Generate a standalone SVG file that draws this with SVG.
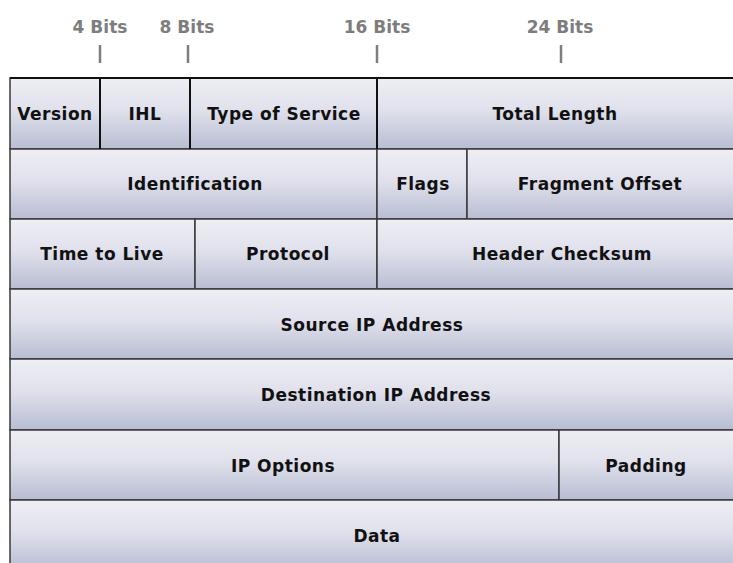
<svg xmlns="http://www.w3.org/2000/svg" width="733" height="563" viewBox="0 0 733 563">
<style>
.cell{fill:url(#g);stroke:#3a3a3a;stroke-width:1.5}
.lbl{font-family:"DejaVu Sans",Verdana,sans-serif;font-weight:bold;font-size:17px;fill:#111;text-anchor:middle;letter-spacing:0.5px}
.bits{font-family:"DejaVu Sans",Verdana,sans-serif;font-weight:bold;font-size:17px;fill:#7d7d7d;text-anchor:middle}
.tick{stroke:#7d7d7d;stroke-width:2.5}
.div{stroke:#111;stroke-width:2}
</style>
<defs>
<linearGradient id="g" x1="0" y1="0" x2="0" y2="1">
<stop offset="0" stop-color="#eeeef4"/>
<stop offset="0.45" stop-color="#e0e1ec"/>
<stop offset="1" stop-color="#b8bdd2"/>
</linearGradient>
</defs>
<rect width="733" height="563" fill="#fff"/>
<g id="scale">
<text class="bits" x="100" y="33">4 Bits</text>
<text class="bits" x="187" y="33">8 Bits</text>
<text class="bits" x="377" y="33">16 Bits</text>
<text class="bits" x="560" y="33">24 Bits</text>
<line class="tick" x1="100" y1="45" x2="100" y2="63"/>
<line class="tick" x1="188" y1="45" x2="188" y2="63"/>
<line class="tick" x1="377" y1="45" x2="377" y2="63"/>
<line class="tick" x1="561" y1="45" x2="561" y2="63"/>
</g>
<g id="version"><rect class="cell" x="10" y="78" width="90" height="71"/><text class="lbl" x="55" y="120">Version</text></g>
<g id="ihl"><rect class="cell" x="100" y="78" width="90" height="71"/><text class="lbl" x="145" y="120">IHL</text></g>
<g id="tos"><rect class="cell" x="190" y="78" width="187" height="71"/><text class="lbl" x="284" y="120">Type of Service</text></g>
<g id="totallength"><rect class="cell" x="377" y="78" width="360" height="71"/><text class="lbl" x="555" y="120">Total Length</text></g>
<g id="identification"><rect class="cell" x="10" y="149" width="367" height="70"/><text class="lbl" x="195" y="190">Identification</text></g>
<g id="flags"><rect class="cell" x="377" y="149" width="90" height="70"/><text class="lbl" x="423" y="190">Flags</text></g>
<g id="fragoffset"><rect class="cell" x="467" y="149" width="270" height="70"/><text class="lbl" x="600" y="190">Fragment Offset</text></g>
<g id="ttl"><rect class="cell" x="10" y="219" width="185" height="70"/><text class="lbl" x="102" y="260">Time to Live</text></g>
<g id="protocol"><rect class="cell" x="195" y="219" width="182" height="70"/><text class="lbl" x="288" y="260">Protocol</text></g>
<g id="checksum"><rect class="cell" x="377" y="219" width="360" height="70"/><text class="lbl" x="562" y="260">Header Checksum</text></g>
<g id="source"><rect class="cell" x="10" y="289" width="727" height="70"/><text class="lbl" x="372" y="331">Source IP Address</text></g>
<g id="destination"><rect class="cell" x="10" y="359" width="727" height="71"/><text class="lbl" x="376" y="401">Destination IP Address</text></g>
<g id="options"><rect class="cell" x="10" y="430" width="549" height="70"/><text class="lbl" x="283" y="472">IP Options</text></g>
<g id="padding"><rect class="cell" x="559" y="430" width="178" height="70"/><text class="lbl" x="646" y="472">Padding</text></g>
<g id="data"><rect class="cell" x="10" y="500" width="727" height="70"/><text class="lbl" x="377" y="542">Data</text></g>
<g id="dividers">
<line class="div" x1="100" y1="78" x2="100" y2="149"/>
<line class="div" x1="190" y1="78" x2="190" y2="149"/>
<line class="div" x1="377" y1="78" x2="377" y2="149"/>
<line class="div" x1="10" y1="78" x2="733" y2="78"/>
</g>
</svg>
